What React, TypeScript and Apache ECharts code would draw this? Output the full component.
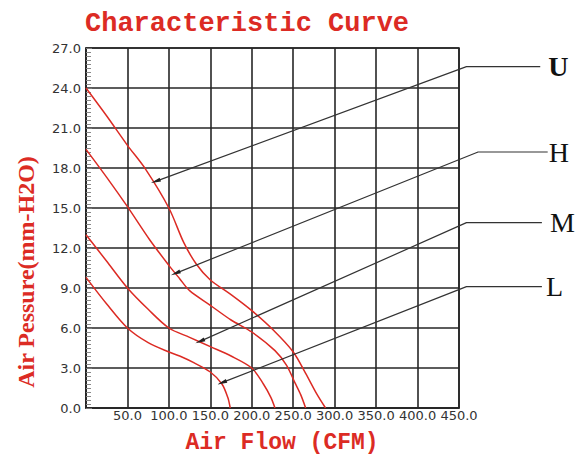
import React, { useEffect, useRef } from "react";
import * as echarts from "echarts";

// Air flow (CFM) vs air pressure (mm-H2O)
const uCurve: number[][] = [[0, 24], [25, 21.9], [50, 19.7], [72, 17.9], [100, 15.0], [118, 12.4], [133, 10.8], [150, 9.6], [175, 8.5], [200, 7.3], [225, 5.9], [250, 4.2], [265, 2.6], [278, 1.1], [289, 0]];
const hCurve: number[][] = [[0, 19.4], [25, 17.3], [50, 15.1], [77, 12.6], [100, 10.7], [113, 9.7], [125, 8.8], [150, 7.7], [175, 6.6], [200, 5.7], [228, 4.3], [242, 3.2], [252, 1.9], [259, 1.0], [265, 0]];
const mCurve: number[][] = [[0, 13.0], [25, 11.0], [50, 9.0], [75, 7.4], [100, 6.0], [125, 5.3], [150, 4.6], [175, 3.9], [200, 3.0], [214, 1.8], [223, 0.8], [228, 0]];
const lCurve: number[][] = [[0, 9.8], [25, 7.8], [50, 6.0], [75, 4.9], [100, 4.2], [113, 3.9], [130, 3.4], [150, 2.7], [164, 1.8], [171, 0.8], [174, 0]];

// Leader lines: arrow tip on curve -> bend -> end near the letter (data coordinates)
const annU: number[][] = [[84, 17.0], [459, 25.6], [548, 25.6]];
const annH: number[][] = [[108, 10.1], [473, 19.2], [557, 19.2]];
const annM: number[][] = [[137.5, 5.0], [459, 13.9], [550, 13.9]];
const annL: number[][] = [[164, 1.9], [459, 9.1], [550, 9.1]];

const xMax = 450;
const xStep = 50;
const yMax = 27;
const yStep = 3;
const annXMax = 580; // extended invisible axis used for the leader lines

const titleText = "Characteristic Curve";
const xName = "Air Flow (CFM)";
const yName = "Air Pessure(mm-H2O)";

const RED = "#dc2b24";
const GRIDC = "#262626";

export default function App() {
  const ref = useRef<HTMLDivElement>(null);
  useEffect(() => {
    const chart = echarts.init(ref.current!, null, { renderer: "svg" });
    const G = { left: 86, top: 48, width: 373, height: 360 };
    const pxX = G.width / xMax;
    const pxY = G.height / yMax;
    const G2 = { left: G.left, top: G.top, width: G.width * (annXMax / xMax), height: G.height };

    const curve = (name: string, data: number[][]) => ({
      type: "line",
      name,
      data,
      smooth: 0.3,
      symbol: "none",
      silent: true,
      z: 3,
      lineStyle: { color: RED, width: 1.5 },
    });

    const ann = (name: string, pts: number[][], dist: number, bold: boolean) => {
      const tip = pts[0];
      const bend = pts[1];
      const ang =
        (Math.atan2((tip[1] - bend[1]) * pxY, (tip[0] - bend[0]) * pxX) * 180) / Math.PI - 90;
      return {
        type: "line",
        name,
        xAxisIndex: 1,
        yAxisIndex: 1,
        clip: false,
        silent: true,
        z: 4,
        showSymbol: true,
        symbol: "none",
        data: pts.map((p, i) =>
          i === 0
            ? { value: p, symbol: "triangle", symbolSize: [4, 10], symbolRotate: ang, itemStyle: { color: "#222" } }
            : { value: p, symbol: "none" }
        ),
        lineStyle: { color: "#333", width: 1.2 },
        endLabel: {
          show: true,
          formatter: () => name,
          distance: dist,
          color: "#111",
          fontFamily: "Liberation Serif",
          fontSize: 28,
          fontWeight: bold ? "bold" : "normal",
        },
      };
    };

    chart.setOption({
      animation: false,
      backgroundColor: "#fff",
      title: {
        text: titleText,
        left: 80,
        top: 5,
        textStyle: { color: RED, fontFamily: "Liberation Mono", fontWeight: "bold", fontSize: 27 },
      },
      grid: [
        { ...G, show: true, borderColor: GRIDC, borderWidth: 1.6, outerBoundsMode: "none", containLabel: false },
        { ...G2, show: false, outerBoundsMode: "none", containLabel: false },
      ],
      xAxis: [
        {
          type: "value",
          gridIndex: 0,
          min: 0,
          max: xMax,
          interval: xStep,
          axisLine: { show: true, lineStyle: { color: GRIDC, width: 1.6 } },
          axisTick: { show: false },
          splitLine: { show: true, lineStyle: { color: GRIDC, width: 1.6 } },
          axisLabel: {
            show: true,
            margin: 1,
            hideOverlap: false,
            showMinLabel: false,
            color: "#333",
            fontFamily: "DejaVu Sans",
            fontSize: 13,
            formatter: (v: number) => (v === 0 ? "" : v.toFixed(1)),
          },
        },
        {
          type: "value",
          gridIndex: 1,
          min: 0,
          max: annXMax,
          show: false,
        },
      ],
      yAxis: [
        {
          type: "value",
          gridIndex: 0,
          min: 0,
          max: yMax,
          interval: yStep,
          axisLine: { show: true, lineStyle: { color: GRIDC, width: 1.6 } },
          axisTick: { show: true, inside: true, length: 6, lineStyle: { color: "#777" } },
          minorTick: { show: true, splitNumber: 10, length: 5, lineStyle: { color: "#888" } },
          splitLine: { show: true, lineStyle: { color: GRIDC, width: 1.6 } },
          axisLabel: {
            margin: 5,
            color: "#333",
            fontFamily: "DejaVu Sans",
            fontSize: 13,
            formatter: (v: number) => v.toFixed(1),
          },
        },
        {
          type: "value",
          gridIndex: 1,
          min: 0,
          max: yMax,
          show: false,
        },
      ],
      graphic: [
        {
          type: "text",
          x: 282,
          y: 443,
          style: {
            text: xName,
            align: "center",
            verticalAlign: "middle",
            fill: RED,
            font: "bold 23px 'Liberation Mono'",
          },
        },
        {
          type: "text",
          x: 26,
          y: 272,
          rotation: Math.PI / 2,
          style: {
            text: yName,
            align: "center",
            verticalAlign: "middle",
            fill: RED,
            font: "bold 24px 'Liberation Serif'",
          },
        },
      ],
      series: [
        curve("U curve", uCurve),
        curve("H curve", hCurve),
        curve("M curve", mCurve),
        curve("L curve", lCurve),
        ann("U", annU, 8, true),
        ann("H", annH, 1, false),
        ann("M", annM, 8, false),
        ann("L", annL, 4, false),
      ],
    });
    return () => chart.dispose();
  }, []);
  return <div ref={ref} style={{ position: "fixed", left: 0, top: 0, width: 579, height: 457 }} />;
}
